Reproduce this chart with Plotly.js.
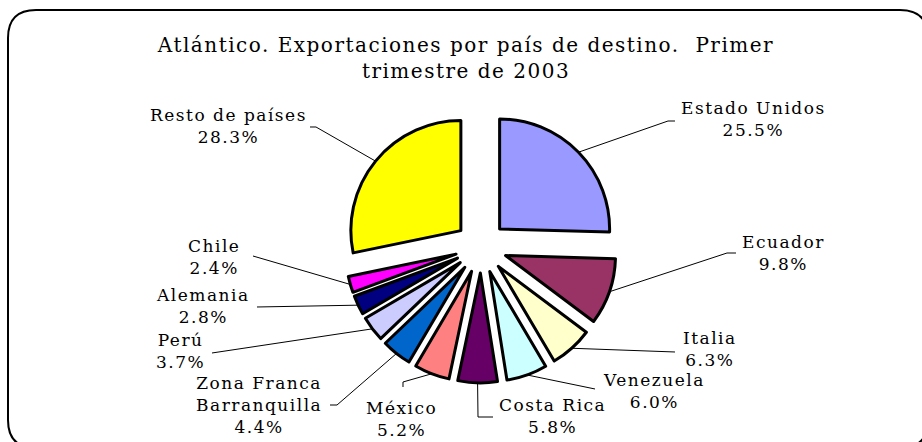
<!DOCTYPE html>
<html>
<head>
<meta charset="utf-8">
<script src="https://cdn.plot.ly/plotly-3.0.1.min.js"></script>
<style>
  html, body { margin: 0; padding: 0; background: #fff; }
  #chart { width: 922px; height: 442px; }
  text.annotation-text { letter-spacing: 1.5px; }
  text.gtitle { letter-spacing: 1.5px; }
</style>
</head>
<body>
<div id="chart"></div>
<script>
// ---- data ----
var countries = ['Estado Unidos', 'Ecuador', 'Italia', 'Venezuela', 'Costa Rica', 'México',
                 'Zona Franca Barranquilla', 'Perú', 'Alemania', 'Chile', 'Resto de países'];
var shares = [25.5, 9.8, 6.3, 6.0, 5.8, 5.2, 4.4, 3.7, 2.8, 2.4, 28.3];
var sliceColors = ['#9999FF', '#993366', '#FFFFCC', '#CCFFFF', '#660066', '#FF8080',
                   '#0066CC', '#CCCCFF', '#000080', '#FF00FF', '#FFFF00'];
var chartTitle = 'Atlántico. Exportaciones por país de destino.  Primer<br>trimestre de 2003';

// ---- layout (pixel positions) ----
var W = 922, H = 442;
var CX = 481, CY = 247, R = 110, PULL = 0.236;
var HALF = R * (1 + PULL);
var labelPos = [[753, 119], [783, 253], [710, 349], [654, 391], [552, 416], [401, 419],
                [259, 405], [180, 351], [203, 306], [214, 257], [228, 126]];
var leaderPts = [
  [[675, 121], [668, 121]],
  [[736, 253], [727, 253]],
  [[675, 352]],
  [[595, 389]],
  [[493, 417], [478, 417]],
  [[403, 387], [403, 382]],
  [[330, 405], [337, 405]],
  [[212, 353]],
  [[257, 307]],
  [[253, 256]],
  [[310, 127], [316, 127]]
];

function px(x) { return x / W; }
function py(y) { return 1 - y / H; }

var FONT = 'DejaVu Serif, Liberation Serif, serif';

var total = shares.reduce(function (a, b) { return a + b; }, 0);
var annotations = [];
var shapes = [];
var cum = 0;
for (var i = 0; i < shares.length; i++) {
  var mid = (cum + shares[i] / 2) / total * 2 * Math.PI;
  cum += shares[i];
  var ex = CX + HALF * Math.sin(mid);
  var ey = CY - HALF * Math.cos(mid);
  var pts = leaderPts[i].concat([[ex, ey]]);
  var d = pts.map(function (p, k) { return (k ? 'L' : 'M') + px(p[0]).toFixed(5) + ',' + py(p[1]).toFixed(5); }).join(' ');
  shapes.push({ type: 'path', xref: 'paper', yref: 'paper', path: d, line: { color: '#000', width: 1 } });
  var name = countries[i].replace('Franca ', 'Franca<br>');
  annotations.push({
    xref: 'paper', yref: 'paper', x: px(labelPos[i][0]), y: py(labelPos[i][1]),
    xanchor: 'center', yanchor: 'middle', showarrow: false, align: 'center',
    text: name + '<br>' + shares[i].toFixed(1) + '%',
    font: { family: FONT, size: 17, color: '#000' }
  });
}

// rounded frame
var fl = 8, ft = 10, fr = 928, fb = 448, rr = 28;
function P(x, y) { return px(x).toFixed(5) + ',' + py(y).toFixed(5); }
var frame = 'M' + P(fl + rr, ft) + ' L' + P(fr - rr, ft) + ' Q' + P(fr, ft) + ' ' + P(fr, ft + rr) +
            ' L' + P(fr, fb - rr) + ' Q' + P(fr, fb) + ' ' + P(fr - rr, fb) +
            ' L' + P(fl + rr, fb) + ' Q' + P(fl, fb) + ' ' + P(fl, fb - rr) +
            ' L' + P(fl, ft + rr) + ' Q' + P(fl, ft) + ' ' + P(fl + rr, ft) + ' Z';
shapes.push({ type: 'path', xref: 'paper', yref: 'paper', path: frame, line: { color: '#000', width: 2 } });

var trace = {
  type: 'pie',
  labels: countries,
  values: shares,
  sort: false,
  direction: 'clockwise',
  rotation: 0,
  pull: PULL,
  textinfo: 'none',
  hoverinfo: 'none',
  showlegend: false,
  marker: { colors: sliceColors, line: { color: '#000', width: 3 } },
  domain: { x: [px(CX - HALF), px(CX + HALF)], y: [py(CY + HALF), py(CY - HALF)] }
};

var layout = {
  width: W, height: H,
  margin: { l: 0, r: 0, t: 0, b: 0 },
  paper_bgcolor: '#fff',
  showlegend: false,
  title: {
    text: chartTitle,
    x: 466 / W, xanchor: 'center',
    y: 1 - 52 / H, yanchor: 'middle',
    font: { family: FONT, size: 20, color: '#000' }
  },
  annotations: annotations,
  shapes: shapes
};

Plotly.newPlot('chart', [trace], layout, { displayModeBar: false, staticPlot: true });
</script>
</body>
</html>
